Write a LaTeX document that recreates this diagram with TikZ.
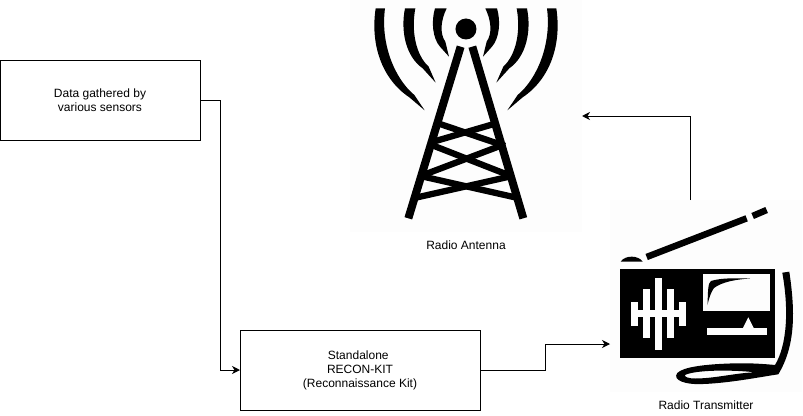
\documentclass[tikz,border=0pt]{standalone}
\usepackage{fontspec}
\setmainfont{Liberation Sans}
\usetikzlibrary{arrows.meta}
\tikzset{
  box/.style={draw=black,line width=1pt,fill=white,minimum width=#1,anchor=north west,inner sep=0pt,outer sep=0pt,align=center,font=\fontsize{12}{14}\selectfont},
  box/.default=200pt,
  icon/.style={fill=iconbg,draw=none,anchor=north west,inner sep=0pt,outer sep=0pt,minimum width=#1,minimum height=#1},
  lbl/.style={inner sep=0pt,align=center,font=\fontsize{12}{14}\selectfont},
  conn/.style={draw=black,line width=1pt,-{Stealth[length=8pt,width=8pt,inset=2.5pt]}}
}
\definecolor{iconbg}{HTML}{FDFDFD}
\begin{document}
\begin{tikzpicture}[x=1pt,y=-1pt]
\useasboundingbox (0,0) rectangle (803,415);
\fill[white] (0,0) rectangle (803,415);
% nodes
\node[box,minimum height=80pt] (sensors) at (0,60) {Data gathered by\\various sensors};
\node[box=240pt,minimum height=80pt] (recon) at (240,330) {Standalone\hspace*{3.5pt}\\RECON-KIT\hspace*{3.5pt}\\(Reconnaissance Kit)};
\node[icon=232pt] (antenna) at (350,0) {};
\node[icon=192pt] (radio) at (610,200) {};
\node[lbl] (antennalabel) at (466,245) {Radio Antenna};
\node[lbl] (radiolabel) at (706,405) {Radio Transmitter};
\coordinate (radioin) at (610,344);
\coordinate (radioout) at (690.5,200);
% connectors
\draw[conn] (sensors.east) -- (220,100) -- (220,370) -- (recon.west);
\draw[conn] (recon.east) -- (545,370) -- (545,344) -- (radioin);
\draw[conn] (radioout) -- (690.5,116) -- (antenna.east);
% antenna icon
\begin{scope}[shift={(340,0)},x=0.3333pt,y=-0.3333pt]
  \fill (378,87) circle[radius=31.5];
  \draw[line width=8pt] (362,140) -- (205,655);
  \draw[line width=8pt] (397,140) -- (550,655);
  \draw[line width=6.3pt] (300,372) -- (495,438);
  \draw[line width=6.3pt] (462,372) -- (270,428);
  \draw[line width=6.3pt] (275,435) -- (505,525);
  \draw[line width=6.3pt] (488,435) -- (250,525);
  \draw[line width=6.3pt] (250,530) -- (525,592);
  \draw[line width=6.3pt] (508,530) -- (232,592);
  \foreach \m in {1,-1}{
    \begin{scope}[shift={(378,0)},xscale=\m]
      \fill (-271,25) .. controls (-287,130) and (-255,235) .. (-170,292)
            -- (-124,331) -- (-155,285) .. controls (-215,235) and (-257,130) .. (-243,25) -- cycle;
      \fill (-183,25) .. controls (-197,95) and (-180,170) .. (-130,205)
            -- (-91,248) -- (-112,200) .. controls (-150,165) and (-165,95) .. (-152,25) -- cycle;
      \fill (-93,25) .. controls (-105,65) and (-100,115) .. (-78,140)
            -- (-51,170) -- (-62,125) .. controls (-80,100) and (-75,60) .. (-58,25) -- cycle;
    \end{scope}
  }
\end{scope}
% radio icon
\begin{scope}[shift={(600,190)},x=0.3333pt,y=-0.3333pt]
  \draw[line width=6.5pt] (140,201) -- (440,85);
  \draw[line width=6.5pt] (458,78) -- (500,60);
  \fill (62,215) .. controls (75,195) and (115,195) .. (128,215) -- cycle;
  \fill (60,237) rectangle (525,503);
\end{scope}
\fill[even odd rule] (782.3,272.7) -- (789.3,271.7) .. controls (795,310) and (796,345) .. (778.3,374.3)
   .. controls (760,377) and (730,383) .. (703.3,384)
   .. controls (685,385) and (672,380) .. (677.3,373)
   .. controls (683,367) and (705,364) .. (736.7,363.3)
   .. controls (750,363) and (765,364) .. (775,365)
   .. controls (787,345) and (789,310) .. (782.3,272.7) -- cycle
   (685,375) .. controls (695,370) and (730,369.5) .. (755,372.3)
   .. controls (735,373) and (715,378.5) .. (695,378.5)
   .. controls (689,378.5) and (684,377) .. (685,375) -- cycle;
\fill[iconbg] (631,310.3) rectangle (685.7,316.7);
\fill[iconbg] (631,301.7) rectangle (637.7,325.7);
\fill[iconbg] (643.3,289.3) rectangle (650,337.7);
\fill[iconbg] (655,277.7) rectangle (662.3,349.7);
\fill[iconbg] (667,289.3) rectangle (673.7,337.7);
\fill[iconbg] (679,301.7) rectangle (685.7,325.7);
\fill[iconbg] (703.3,274) rectangle (770,310.7);
\fill (707.5,305) .. controls (708,290) and (708,283) .. (711,281)
   .. controls (720,278) and (735,278) .. (750,278.5)
   .. controls (735,279.5) and (722,282) .. (714,288)
   .. controls (711,292) and (709,298) .. (707.5,305) -- cycle;
\fill[iconbg] (706.7,328.3) rectangle (766.7,334.7);
\fill[iconbg] (742.7,328.5) -- (748.3,317.3) -- (754,328.5) -- cycle;
\end{tikzpicture}
\end{document}
